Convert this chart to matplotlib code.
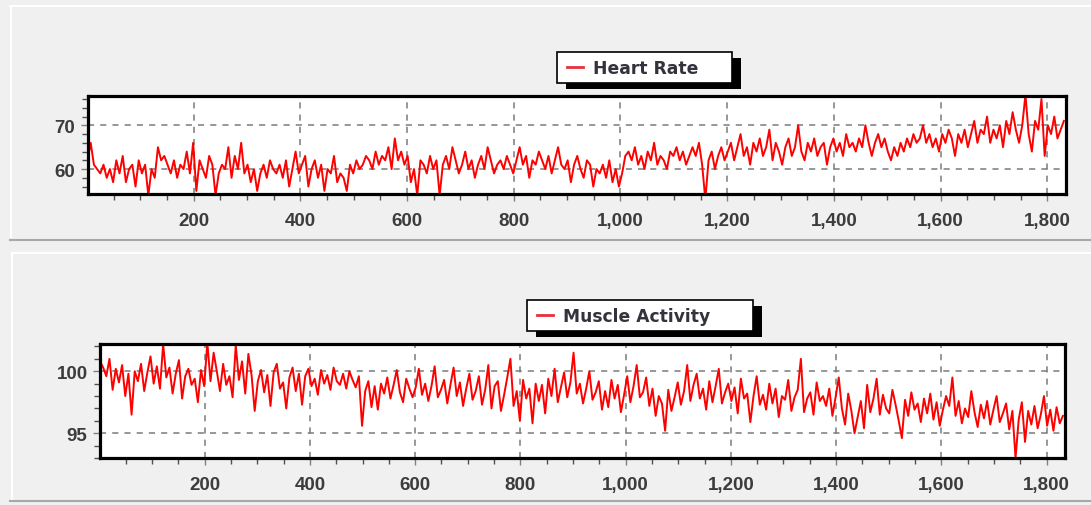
import numpy as np
import matplotlib
matplotlib.use('Agg')
import matplotlib.pyplot as plt
from matplotlib.patches import Rectangle
from matplotlib.lines import Line2D
from matplotlib.ticker import MultipleLocator, FuncFormatter

plt.rcParams['font.family'] = ['Liberation Sans', 'DejaVu Sans']

# samples are read every 6th point of the recording
sample_step = 6

heart_rate = [
    62, 66, 61, 60, 59, 61, 58, 60, 57, 62,
    59, 63, 57, 60, 61, 56, 62, 59, 61, 54,
    60, 58, 65, 62, 63, 61, 59, 62, 58, 61,
    60, 64, 59, 66, 55, 62, 60, 58, 63, 61,
    54, 59, 61, 60, 65, 58, 63, 60, 66, 59,
    61, 57, 60, 55, 59, 61, 58, 62, 60, 59,
    61, 58, 62, 56, 60, 64, 59, 61, 63, 56,
    60, 62, 58, 61, 55, 60, 59, 63, 57, 59,
    58, 55, 61, 59, 62, 60, 61, 63, 62, 60,
    64, 61, 63, 62, 65, 60, 67, 62, 64, 61,
    63, 57, 60, 54, 62, 61, 59, 63, 60, 62,
    54, 61, 63, 60, 65, 62, 59, 61, 64, 60,
    62, 58, 61, 63, 60, 65, 62, 59, 61, 62,
    60, 63, 61, 59, 62, 65, 61, 63, 58, 62,
    61, 64, 62, 60, 63, 59, 62, 65, 61, 60,
    62, 57, 61, 63, 60, 58, 62, 61, 56, 60,
    59, 61, 58, 62, 57, 60, 56, 59, 63, 64,
    62, 65, 61, 63, 60, 64, 62, 66, 61, 63,
    62, 60, 64, 63, 65, 62, 64, 61, 63, 65,
    63, 66, 61, 53, 62, 64, 60, 63, 65, 62,
    64, 66, 62, 65, 68, 63, 65, 61, 66, 64,
    67, 63, 65, 69, 62, 66, 64, 61, 65, 67,
    63, 65, 70, 64, 62, 66, 64, 67, 63, 65,
    66, 61, 65, 67, 64, 66, 63, 68, 65, 66,
    64, 67, 65, 70, 66, 63, 66, 68, 65, 67,
    64, 62, 65, 63, 66, 64, 67, 65, 68, 66,
    67, 70, 66, 68, 65, 67, 64, 68, 66, 69,
    67, 63, 68, 66, 69, 65, 68, 71, 66, 69,
    68, 72, 66, 69, 67, 70, 65, 71, 68, 73,
    69, 66, 70, 77, 68, 64, 71, 69, 76, 63,
    70, 68, 72, 67, 69, 71,
]

muscle_activity = [
    100.8, 100.3, 99.6, 101.0, 98.5, 100.2, 99.1, 100.5, 98.0, 99.8,
    96.5, 100.0, 99.2, 100.6, 98.4, 99.9, 101.2, 99.0, 100.4, 98.6,
    102.2, 99.5, 100.3, 98.2, 99.8, 100.9, 97.8, 99.6, 100.2, 98.9,
    99.4, 97.5, 100.1, 98.8, 102.3, 99.2, 101.5, 100.0, 98.4, 100.6,
    98.9, 99.6, 97.9, 102.1, 99.3, 100.8, 98.2, 101.4, 99.7, 96.8,
    99.2, 100.1, 98.3, 99.7, 97.2, 99.9, 100.6, 98.6, 99.1, 97.0,
    99.5, 100.3, 98.4, 99.8, 97.3, 99.6, 100.2, 98.8, 99.4, 98.1,
    100.1, 99.0, 99.7, 98.5, 100.3, 99.2, 98.9, 99.8, 98.6, 100.0,
    99.3, 98.7, 99.6, 95.6, 98.4, 99.2, 97.1, 98.8, 96.9, 99.0,
    98.2, 99.5, 97.8, 98.9, 100.1, 98.3, 97.5, 99.4, 98.6, 97.9,
    98.7, 100.2, 98.1, 99.0, 97.6, 98.8, 100.4, 97.9, 98.5, 99.3,
    97.4, 98.9, 100.3, 98.0, 99.1, 97.2, 98.6, 99.8, 97.7, 98.4,
    99.6, 97.3, 98.5, 100.5, 97.0, 98.8, 99.2, 96.8, 98.1, 99.5,
    101.0, 97.2, 98.4, 96.0, 99.3, 97.8, 98.6, 95.8, 99.0, 97.6,
    98.9, 96.6, 99.4, 98.0, 100.2, 97.5, 98.7, 99.9, 97.9, 99.1,
    101.5, 98.2, 99.0, 97.4, 98.6, 100.0, 97.7, 98.3, 99.2, 96.9,
    98.4, 97.1, 99.3, 97.8, 98.9, 96.7, 98.1, 99.6, 97.5, 98.8,
    100.5, 97.9, 98.3, 99.5, 97.2, 98.6, 96.4, 98.0, 97.4, 95.2,
    98.5, 96.8, 97.9, 99.1, 97.3, 98.4, 100.5, 97.6, 98.9, 99.8,
    97.8, 98.6, 96.9, 99.2, 97.5, 98.8, 100.2, 97.4, 98.3, 99.0,
    97.6, 98.7, 96.6, 99.4, 97.8, 98.2, 95.9, 98.0, 99.6, 97.3,
    98.1, 96.9, 99.0, 97.4, 98.6, 96.3, 98.0, 97.7, 99.3, 96.8,
    97.9, 98.5, 101.0, 96.7, 97.8, 98.3, 96.5, 99.1, 97.6, 98.0,
    97.2, 98.6, 96.4, 97.9, 99.5, 97.0, 95.7, 98.2, 96.8, 95.0,
    96.3, 97.6, 95.4, 98.9, 96.7, 97.8, 99.4, 96.5, 98.1, 97.0,
    96.6, 98.5, 97.3, 96.0, 94.6, 97.7, 96.4, 98.3, 96.9, 97.4,
    95.9, 97.8, 96.6, 98.2, 96.1, 97.5, 95.6, 96.9, 98.0, 97.2,
    99.5, 96.4, 97.6, 95.8, 97.0, 96.3, 98.4, 96.7, 95.5, 97.3,
    96.2, 97.6, 95.7, 96.9, 98.0, 95.9, 96.6, 97.4, 95.3, 96.8,
    93.0, 96.1, 97.5, 94.3, 96.8, 95.7, 97.2, 95.4, 96.5, 98.0,
    95.6, 96.9, 95.2, 97.1, 95.8, 96.4,
]

x_ticks = [200, 400, 600, 800, 1000, 1200, 1400, 1600, 1800]

panels = [
    # label, values, y ticks, y minor step, y limits
    ('Heart Rate', heart_rate, [60, 70], 2, (54.3, 76.7)),
    ('Muscle Activity', muscle_activity, [95, 100], 1, (93.0, 102.2)),
]
# pixel layout: axes box, legend box, legend handle start
axes_px = [[87.5, 97, 1066, 195], [100, 345, 1065, 459]]
legend_px = [[557, 53, 732, 84], [527, 301, 753, 332]]
handle_px = [567, 537]

W, H = 1091, 506
fig = plt.figure(figsize=(W / 100, H / 100), dpi=100, facecolor='#f0f0f0')


def fx(px):
    return px / W


def fy(py):
    return 1 - py / H


# panel frame lines
fig.add_artist(Line2D([fx(10), fx(1091)], [fy(7), fy(7)], color='white', lw=1.5))
fig.add_artist(Line2D([fx(11), fx(11)], [fy(7), fy(238)], color='white', lw=1.5))
fig.add_artist(Line2D([fx(10), fx(1091)], [fy(241), fy(241)], color='#a8a8a8', lw=1.5))
fig.add_artist(Line2D([fx(12), fx(1091)], [fy(254), fy(254)], color='white', lw=1.5))
fig.add_artist(Line2D([fx(12), fx(12)], [fy(254), fy(500)], color='white', lw=1.5))
fig.add_artist(Line2D([fx(10), fx(1091)], [fy(502), fy(502)], color='#a8a8a8', lw=1.5))

for i, (label, values, yticks, ystep, ylim) in enumerate(panels):
    x0, y0, x1, y1 = axes_px[i]
    ax = fig.add_axes([fx(x0), fy(y1), fx(x1 - x0), (y1 - y0) / H])
    ax.set_facecolor('white')
    x = np.arange(len(values)) * sample_step + 1
    line, = ax.plot(x, values, color='#ff0000', lw=1.4)
    ax.set_xlim(1, 1835)
    ax.set_ylim(*ylim)
    ax.set_xticks(x_ticks)
    ax.xaxis.set_minor_locator(MultipleLocator(50))
    ax.set_yticks(yticks)
    ax.yaxis.set_minor_locator(MultipleLocator(ystep))
    ax.xaxis.set_major_formatter(FuncFormatter(lambda v, p: f'{int(v):,}'))
    ax.grid(True, which='major', color='#7a7a7a', ls=(0, (4, 4)), lw=1.1)
    for s in ax.spines.values():
        s.set_linewidth(2.3)
        s.set_color('black')
    ax.tick_params(which='major', length=5, width=1, color='#808080',
                   labelsize=13.5, labelcolor='#3c3c3c')
    ax.tick_params(axis='x', which='major', pad=8)
    ax.tick_params(axis='y', which='major', pad=4)
    ax.tick_params(which='minor', length=4, width=1, color='#505050')
    for t in ax.get_xticklabels() + ax.get_yticklabels():
        t.set_fontweight('bold')

    # legend box with a solid black drop shadow
    bx0, by0, bx1, by1 = legend_px[i]
    fig.add_artist(Rectangle((fx(bx0 + 9), fy(by1 + 6)), fx(bx1 - bx0),
                             (by1 - by0) / H, facecolor='black',
                             edgecolor='none', zorder=8))
    fig.add_artist(Rectangle((fx(bx0), fy(by1)), fx(bx1 - bx0),
                             (by1 - by0) / H, facecolor='white',
                             edgecolor='black', lw=1.2, zorder=9))
    leg = fig.legend(handles=[line], labels=[label], loc='center left',
                     bbox_to_anchor=(fx(handle_px[i]), fy((by0 + by1) / 2)),
                     frameon=False, handlelength=0.95, handletextpad=0.58,
                     borderpad=0, borderaxespad=0,
                     prop={'family': 'DejaVu Sans', 'weight': 'bold',
                           'size': 12.3})
    leg.set_zorder(10)
    for t in leg.get_texts():
        t.set_color('#33333d')
    for h in leg.legend_handles:
        h.set_linewidth(2)
        h.set_color('#e8303a')

fig.savefig('out.png', dpi=100, facecolor=fig.get_facecolor())
